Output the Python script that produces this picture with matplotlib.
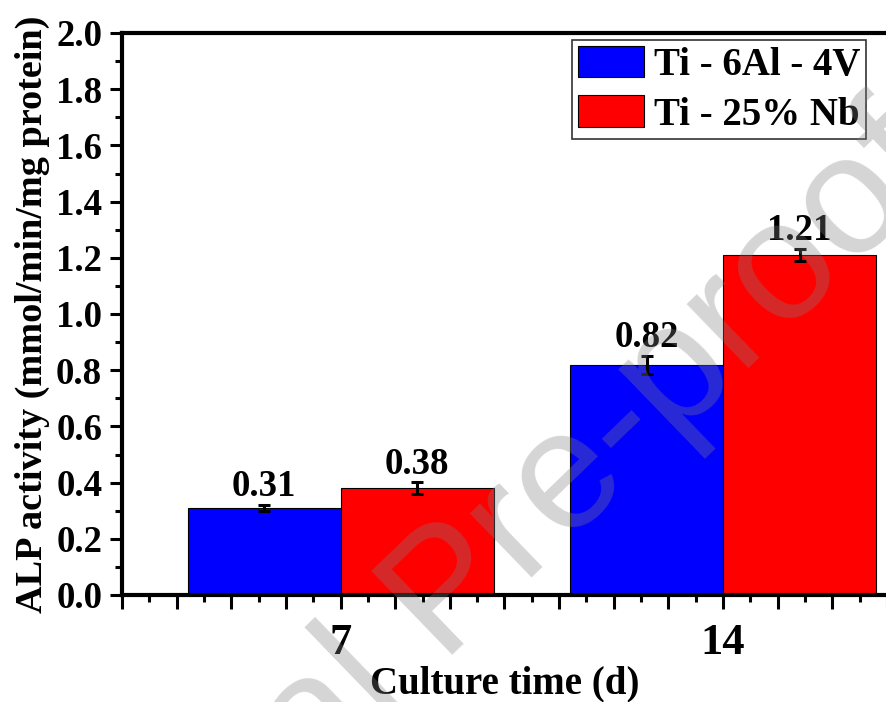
import matplotlib
matplotlib.use("Agg")
import matplotlib.pyplot as plt
from matplotlib.ticker import MultipleLocator, FuncFormatter
import numpy as np

plt.rcParams['font.family'] = ['Liberation Serif', 'DejaVu Serif']
plt.rcParams['font.weight'] = 'bold'

days = [7, 14]
series = ['Ti - 6Al - 4V', 'Ti - 25% Nb']
colors = ['#0000ff', '#ff0000']
alp_ti64 = [0.31, 0.82]
alp_tinb = [0.38, 1.21]
err_ti64 = [0.012, 0.032]
err_tinb = [0.021, 0.023]
labelled_days = [7, 14]

fig = plt.figure(figsize=(8.87, 7.02), dpi=100)
ax = fig.add_axes([122 / 887, 1 - 595 / 702, 1 - 122 / 887, (595 - 33) / 702])

w = 2.8
x = np.array(days, dtype=float)
for i, (vals, errs) in enumerate([(alp_ti64, err_ti64), (alp_tinb, err_tinb)]):
    pos = x - w / 2 if i == 0 else x + w / 2
    ax.bar(pos, vals, width=w, color=colors[i], edgecolor='black', linewidth=0.8,
           label=series[i], zorder=2)
    ax.errorbar(pos, vals, yerr=errs, fmt='none', ecolor='black', elinewidth=2.2,
                capsize=4.5, capthick=2.2, zorder=3)
    for p, v, e in zip(pos, vals, errs):
        ax.annotate(f'{v:.2f}', (p, v + e), xytext=(0, 6), textcoords='offset points',
                    ha='center', va='baseline', fontsize=26.5, fontweight='bold')

ax.set_xlim(3, 17)
ax.set_ylim(0, 2.0)
ax.xaxis.set_major_locator(MultipleLocator(1))
ax.xaxis.set_minor_locator(MultipleLocator(0.5))
ax.xaxis.set_major_formatter(FuncFormatter(lambda v, p: f'{int(round(v))}' if int(round(v)) in labelled_days else ''))
ax.yaxis.set_major_locator(MultipleLocator(0.2))
ax.yaxis.set_minor_locator(MultipleLocator(0.1))
ax.yaxis.set_major_formatter(FuncFormatter(lambda v, p: f'{v:.1f}'))

for s in ['left', 'bottom', 'top']:
    ax.spines[s].set_linewidth(3)
ax.spines['right'].set_visible(False)

ax.tick_params(axis='y', which='major', direction='out', length=8.3, width=2.2,
               labelsize=26.5, pad=6, right=False)
ax.tick_params(axis='y', which='minor', direction='out', length=4.7, width=2.2, right=False)
ax.tick_params(axis='x', which='major', direction='out', length=10, width=2.2,
               labelsize=32, pad=10, top=False)
ax.tick_params(axis='x', which='minor', direction='out', length=4.8, width=2.2, top=False)

ax.set_xlabel('Culture time (d)', fontsize=28, fontweight='bold', labelpad=2)
ax.set_ylabel('ALP activity (mmol/min/mg protein)', fontsize=27.5, fontweight='bold', labelpad=4)

leg = ax.legend(loc='upper right', bbox_to_anchor=(866 / 887, 1 - 40 / 702),
                bbox_transform=fig.transFigure, borderaxespad=0, fontsize=28,
                fancybox=False, edgecolor='#333333', framealpha=1,
                handlelength=1.7, handleheight=0.87, handletextpad=0.25,
                labelspacing=0.29, borderpad=0.15)
leg.get_frame().set_linewidth(1.2)

# watermark
fig.text(480 / 887, 1 - 628 / 702, 'Journal Pre-proof', fontsize=122, fontweight='normal',
         family='Liberation Sans', color=(0.5, 0.5, 0.5), alpha=0.33, rotation=44,
         rotation_mode='anchor', ha='center', va='baseline', zorder=10)

fig.savefig('out.png', dpi=100)
